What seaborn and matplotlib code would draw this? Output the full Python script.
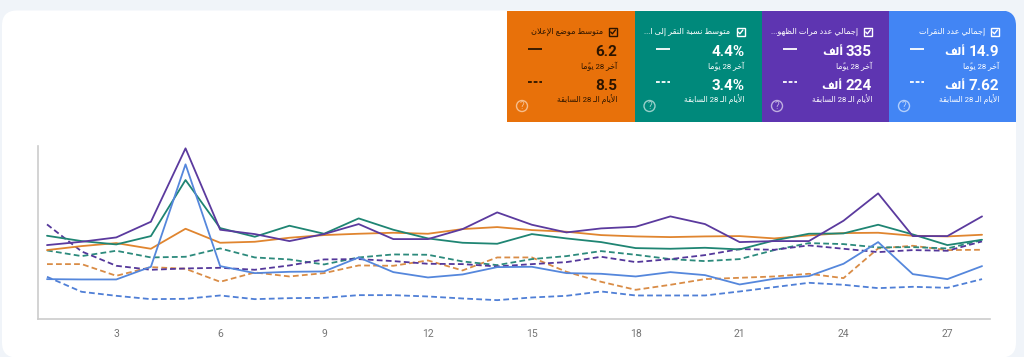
import re
import pandas as pd
import matplotlib
matplotlib.use("Agg")
import matplotlib.pyplot as plt
from matplotlib.patches import Circle, FancyBboxPatch, Rectangle
import seaborn as sns

# Values (chart has no y axis, so units are arbitrary)
days = list(range(1, 29))
x_ticks = [3, 6, 9, 12, 15, 18, 21, 24, 27]

clicks_now = [118, 117, 117, 155, 462, 157, 136, 140, 141, 183, 139, 123, 132, 154, 155, 136, 134, 126, 139, 130, 102, 119, 127, 164, 229, 133, 118, 157]
clicks_prev = [125, 80, 68, 58, 59, 69, 58, 61, 62, 70, 70, 66, 60, 55, 63, 68, 81, 69, 69, 69, 81, 94, 107, 101, 91, 95, 92, 118]
impr_now = [220, 230, 243, 290, 510, 266, 253, 232, 253, 283, 238, 238, 268, 318, 281, 258, 270, 275, 306, 283, 229, 232, 232, 293, 375, 247, 247, 306]
impr_prev = [282, 201, 158, 146, 150, 152, 146, 159, 177, 178, 172, 164, 163, 156, 163, 169, 185, 169, 178, 190, 208, 206, 219, 209, 199, 205, 203, 231]
ctr_now = [248, 232, 222, 247, 415, 271, 245, 278, 254, 300, 266, 240, 227, 224, 253, 240, 229, 211, 209, 212, 207, 234, 254, 255, 281, 252, 220, 236]
ctr_prev = [204, 187, 203, 183, 185, 210, 183, 177, 162, 183, 192, 191, 171, 160, 178, 187, 202, 191, 178, 172, 178, 205, 226, 223, 213, 214, 210, 235]
pos_now = [205, 217, 226, 209, 269, 227, 230, 242, 250, 254, 257, 254, 268, 274, 265, 260, 250, 246, 244, 246, 247, 240, 249, 256, 257, 248, 246, 251]
pos_prev = [163, 163, 128, 154, 149, 110, 138, 126, 136, 159, 158, 174, 144, 183, 183, 140, 110, 86, 101, 118, 122, 126, 134, 121, 210, 218, 205, 206]

card_titles = ["متوسط موضع الإعلان", "متوسط نسبة النقر إلى ا...", "إجمالي عدد مرات الظهو...", "إجمالي عدد النقرات"]
card_now = ["6.2", "4.4%", "335", "14.9"]
card_prev = ["8.5", "3.4%", "224", "7.62"]
card_unit = ["", "", "ألف", "ألف"]
label_now = "آخر 28 يومًا"
label_prev = "الأيام الـ 28 السابقة"

BG = "#f0f4f9"
BLUE = "#4285f4"
PURPLE = "#5e35b1"
TEAL = "#00897b"
ORANGE = "#e8710a"

# matplotlib does no Arabic shaping, so map to presentation forms by hand
RIGHT = {"ا": 0xFE8D, "أ": 0xFE83, "إ": 0xFE87, "آ": 0xFE81, "د": 0xFEA9, "ر": 0xFEAD, "و": 0xFEED, "ة": 0xFE93, "ى": 0xFEEF}
DUAL = {"ب": 0xFE8F, "ت": 0xFE95, "ج": 0xFE9D, "خ": 0xFEA5, "س": 0xFEB1, "ض": 0xFEBD, "ط": 0xFEC1, "ظ": 0xFEC5,
        "ع": 0xFEC9, "ف": 0xFED1, "ق": 0xFED5, "ل": 0xFEDD, "م": 0xFEE1, "ن": 0xFEE5, "ه": 0xFEE9, "ي": 0xFEF1, "ـ": None}
LAM_ALEF = {"ا": 0xFEFB, "أ": 0xFEF7, "إ": 0xFEF9, "آ": 0xFEF5}


def shape(text):
    items = re.findall(r"[0-9.%]+|[^\u064b]\u064b?", text)
    out = []
    i = 0
    while i < len(items):
        item = items[i]
        ch = item[0]
        prev_joins = i > 0 and items[i - 1][0] in DUAL
        next_joins = i + 1 < len(items) and (items[i + 1][0] in DUAL or items[i + 1][0] in RIGHT)
        if ch == "ل" and i + 1 < len(items) and items[i + 1][0] in LAM_ALEF:
            out.append(chr(LAM_ALEF[items[i + 1][0]] + int(prev_joins)))
            i += 2
            continue
        if ch in RIGHT:
            glyph = chr(RIGHT[ch] + int(prev_joins))
        elif ch == "ـ":
            glyph = ch
        elif ch in DUAL:
            offset = {(False, False): 0, (True, False): 1, (False, True): 2, (True, True): 3}[(prev_joins, next_joins)]
            glyph = chr(DUAL[ch] + offset)
        else:
            out.append(item)
            i += 1
            continue
        out.append(glyph + item[1:])
        i += 1
    return "".join(reversed(out))


def draw_value(page, right, y, number, unit, ink):
    # number sits on the right, the smaller unit word to the left of it
    label = page.text(right, y, number, color=ink, fontsize=11, weight="bold", ha="right", va="center")
    if unit:
        box = label.get_window_extent(page.figure.canvas.get_renderer())
        page.text(box.x0 - 3, y, shape(unit), color=ink, fontsize=8, weight="bold", ha="right", va="center")


sns.set_theme(style="white")
plt.rcParams["font.family"] = ["Roboto", "DejaVu Sans"]

fig = plt.figure(figsize=(10.24, 3.57), dpi=100, facecolor=BG)

# overlay in pixel coordinates for the page and the score cards
page = fig.add_axes([0, 0, 1, 1], zorder=0)
page.set_xlim(0, 1024)
page.set_ylim(357, 0)
page.axis("off")

panel = FancyBboxPatch((2, 10.5), 1014, 347, boxstyle="round,pad=0,rounding_size=15", fc="white", ec="none")
page.add_patch(panel)

cards = [
    (507, ORANGE, "#2b1400", "#f6bd8c"),
    (634.5, TEAL, "white", "#99d0ca"),
    (762, PURPLE, "white", "#bfaee0"),
    (889, BLUE, "white", "#b3cffb"),
]

for k, (left, color, ink, help_color) in enumerate(cards):
    box = Rectangle((left, 10.5), 127.5, 111.5, fc=color, ec="none")
    page.add_patch(box)
    box.set_clip_path(panel)

    right = left + 110
    cx = left + 106
    page.add_patch(Rectangle((cx - 4, 28), 8, 8, fc="none", ec=ink, lw=1))
    page.plot([cx - 2.3, cx - 0.6, cx + 2.4], [32, 33.8, 30], color=ink, lw=1)

    page.text(left + 96, 32, shape(card_titles[k]), color=ink, fontsize=5.9, ha="right", va="center")
    draw_value(page, right, 52, card_now[k], card_unit[k], ink)
    page.text(right, 66, shape(label_now), color=ink, fontsize=5.6, ha="right", va="center")
    draw_value(page, right, 85.5, card_prev[k], card_unit[k], ink)
    page.text(right, 99, shape(label_prev), color=ink, fontsize=5.6, ha="right", va="center")

    page.plot([left + 21, left + 35], [49, 49], color=ink, lw=1.3, solid_capstyle="butt")
    page.plot([left + 21, left + 35], [82, 82], color=ink, lw=1.3, ls=(0, (2.1, 1.05)), dash_capstyle="butt")

    page.add_patch(Circle((left + 15, 106), 5.5, fc="none", ec=help_color, lw=1))
    page.text(left + 15, 106, "?", color=help_color, fontsize=7, ha="center", va="center")

# line chart
ax = fig.add_axes([38 / 1024, 1 - 318.5 / 357, (990 - 38) / 1024, (318.5 - 146) / 357], zorder=1)
ax.patch.set_alpha(0)

rows = [
    ("clicks_prev", clicks_prev, "#4f7fd6", "--"),
    ("pos_prev", pos_prev, "#d98c46", "--"),
    ("ctr_prev", ctr_prev, "#2c8a7c", "--"),
    ("impr_prev", impr_prev, "#54379a", "--"),
    ("pos_now", pos_now, "#e0852f", "-"),
    ("ctr_now", ctr_now, "#1f8573", "-"),
    ("clicks_now", clicks_now, "#5587dc", "-"),
    ("impr_now", impr_now, "#5b3a9e", "-"),
]

for name, values, color, style in rows:
    df = pd.DataFrame({"day": days, "value": values})
    line = sns.lineplot(data=df, x="day", y="value", color=color, lw=1.3, ax=ax, errorbar=None, label=name)
    if style == "--":
        line.get_lines()[-1].set_linestyle((0, (3.2, 1.8)))

ax.legend_.remove()
ax.set_xlim(0.74, 28.23)
ax.set_ylim(0, 517)
ax.set_xticks(x_ticks)
ax.set_yticks([])
ax.set_xlabel("")
ax.set_ylabel("")
ax.tick_params(axis="x", length=0, pad=7.5, labelsize=7.5, labelcolor="#757575")
sns.despine(ax=ax)
ax.spines["left"].set_color("#cccccc")
ax.spines["bottom"].set_color("#cccccc")
ax.spines["left"].set_linewidth(1.2)
ax.spines["bottom"].set_linewidth(1.2)

fig.savefig("out.png", dpi=100, facecolor=BG)
